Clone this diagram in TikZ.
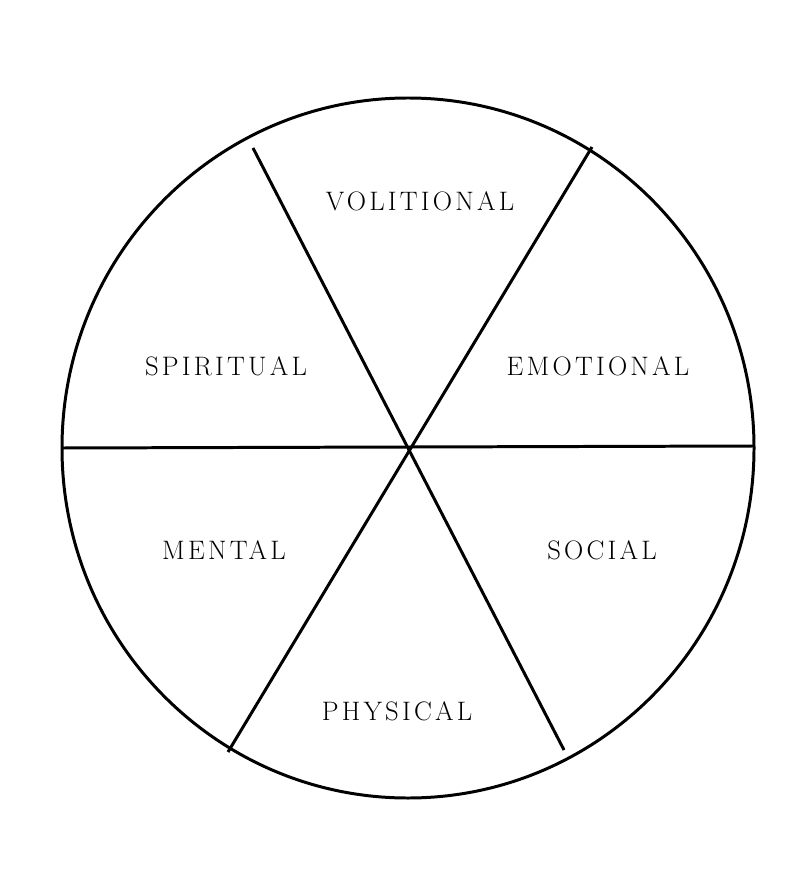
\documentclass[tikz,border=0pt]{standalone}
\usepackage{fontspec}
\usepackage{tikz}
\newfontfamily\lblfont{Latin Modern Roman}[LetterSpace=12.0]

\begin{document}
\begin{tikzpicture}[x=0.02cm, y=-0.02cm, line width=1.7pt,
    lbl/.style={font=\lblfont\fontsize{15.2}{18}\selectfont}]
      \useasboundingbox (0, 0) rectangle (800, 874);
      \coordinate (c) at (408, 448);
      \draw (c) ellipse (346 and 350);
      \coordinate (l) at (62, 448);
      \coordinate (r) at (753, 446);
      \coordinate (tl) at (253, 148);
      \coordinate (br) at (564, 750);
      \coordinate (tr) at (592, 147);
      \coordinate (bl) at (228, 752);

      \draw (l) -- (r);
      \draw (tl) -- (br);
      \draw (tr) -- (bl);

      \node[lbl] (volitional) at (420, 201) {VOLITIONAL};
      \node[lbl] (spiritual) at (226, 366) {SPIRITUAL};
      \node[lbl] (emotional) at (598, 366) {EMOTIONAL};
      \node[lbl] (mental) at (224, 550) {MENTAL};
      \node[lbl] (social) at (602, 550) {SOCIAL};
      \node[lbl] (physical) at (397, 711) {PHYSICAL};
    \end{tikzpicture}
\end{document}
